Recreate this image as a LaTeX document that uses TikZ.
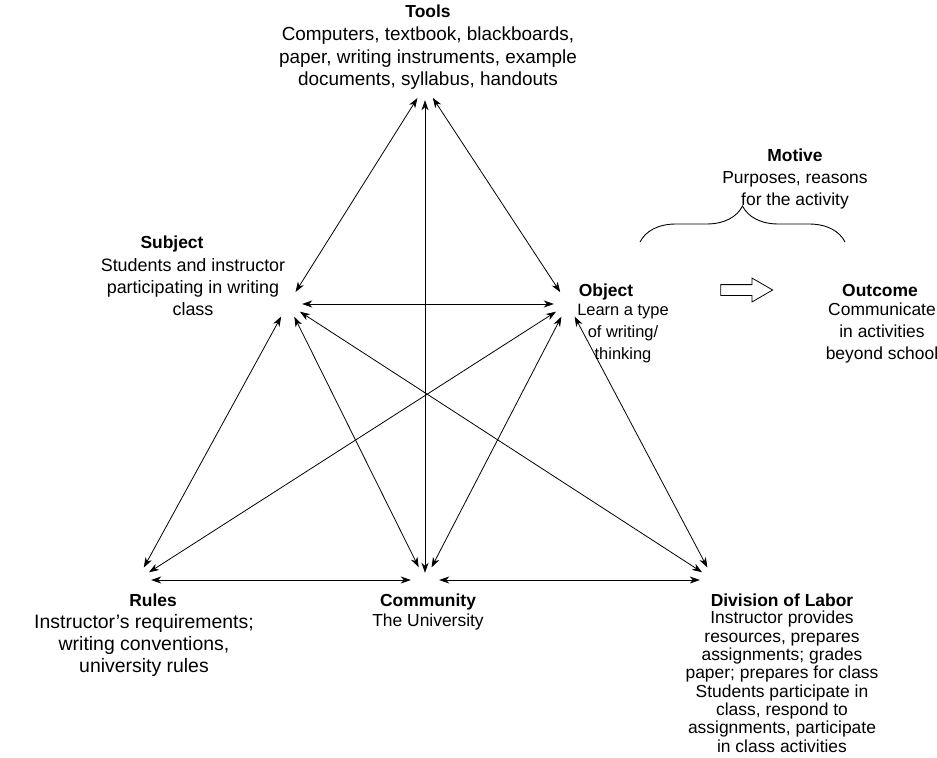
\documentclass[tikz,border=0pt]{standalone}
\usepackage{fontspec}
\setmainfont{Liberation Sans}
\usetikzlibrary{arrows.meta,shapes.arrows,decorations.pathreplacing}

\begin{document}
\begin{tikzpicture}[x=1bp, y=-1bp, font=\fontsize{17.5}{22}\selectfont,
% common options for the headings:
head/.style = {font=\fontsize{17.5}{22}\selectfont\bfseries, anchor=base, inner sep=0},
% common options for the texts under them:
desc/.style = {align=center, anchor=north, inner sep=0},
% corners where the arrows meet:
corner/.style = {circle, minimum size=28bp, inner sep=0},
link/.style = {{Stealth[length=10bp,width=7bp,inset=3bp]}-{Stealth[length=10bp,width=7bp,inset=3bp]}, line width=0.8bp}]
\useasboundingbox (0,0) rectangle (937,758);
\node[head] (toolsHead) at (428,18) {Tools};
\node[desc, font=\fontsize{19}{22.5}\selectfont] (toolsText) at (428,27) {Computers, textbook, blackboards,\\paper, writing instruments, example\\documents, syllabus, handouts};
\node[head] (motiveHead) at (795,161) {Motive};
\node[desc] (motiveText) at (795,171) {Purposes, reasons\\for the activity};
\node[head] (subjHead) at (172,248) {Subject};
\node[desc, font=\fontsize{18}{22}\selectfont] (subjText) at (193,258) {Students and instructor\\participating in writing\\class};
\node[head] (objHead) at (606,296) {Object};
\node[desc, font=\fontsize{16.5}{22}\selectfont] (objText) at (623,304) {Learn a type\\of writing/\\thinking};
\node[head] (outHead) at (880,296) {Outcome};
\node[desc] (outText) at (882,303) {Communicate\\in activities\\beyond school};
\node[head] (rulesHead) at (153,606) {Rules};
\node[desc, font=\fontsize{19.5}{22}\selectfont] (rulesText) at (144,614) {Instructor's requirements;\\writing conventions,\\university rules};
\node[head] (commHead) at (428,606) {Community};
\node[desc] (commText) at (428,614) {The University};
\node[head] (divHead) at (782,606) {Division of Labor};
\node[desc, font=\fontsize{17.5}{18.4}\selectfont] (divText) at (782,611) {Instructor provides\\resources, prepares\\assignments; grades\\paper; prepares for class\\Students participate in\\class, respond to\\assignments, participate\\in class activities};
% object leads to outcome
\node[single arrow, draw, line width=0.8bp, inner sep=0, text height=10bp, text depth=0pt,
      minimum height=52bp, single arrow head extend=6.5bp, single arrow tip angle=60] (leadsTo) at (742,290) {};
\draw[line width=0.9bp, decorate, decoration={brace, amplitude=36bp}] (640,242) -- (845,242);
% meeting points of the arrows
\node[corner] (toolsPt) at (425,86) {};
\node[corner] (subjPt) at (288,304) {};
\node[corner] (objPt) at (568,304) {};
\node[corner] (rulesPt) at (137,580) {};
\node[corner] (commPt) at (425,580) {};
\node[corner] (divPt) at (714,580) {};
\draw[link] (toolsPt) -- (subjPt);
\draw[link, shorten >=-7bp] (toolsPt) -- (commPt);
\draw[link] (toolsPt) -- (objPt);
\draw[link] (subjPt) -- (objPt);
\draw[link] (subjPt) -- (rulesPt);
\draw[link] (subjPt) -- (commPt);
\draw[link] (subjPt) -- (divPt);
\draw[link] (objPt) -- (rulesPt);
\draw[link] (objPt) -- (commPt);
\draw[link] (objPt) -- (divPt);
\draw[link] (rulesPt) -- (commPt);
\draw[link] (commPt) -- (divPt);
\end{tikzpicture}
\end{document}
